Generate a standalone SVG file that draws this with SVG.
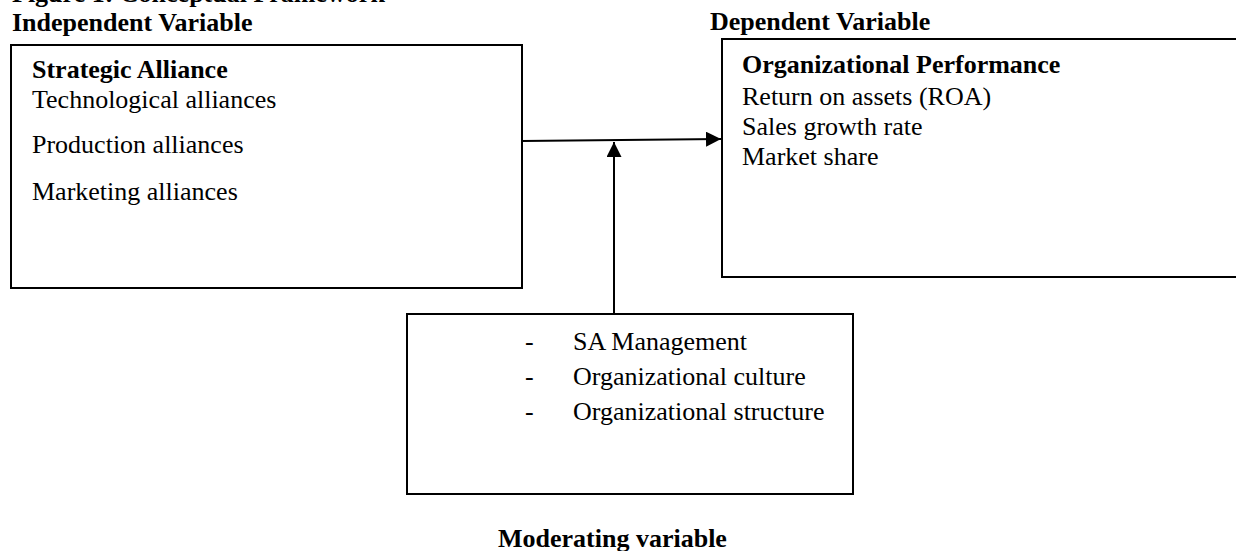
<svg xmlns="http://www.w3.org/2000/svg" width="1236" height="551" viewBox="0 0 1236 551">
<style>
.box{fill:#fff;stroke:#000;stroke-width:2}
.t{font-family:"Liberation Serif","Times New Roman",serif;font-size:26px;fill:#000}
.b{font-weight:bold}
.con{stroke:#000;stroke-width:2;fill:none}
</style>
<defs>
<marker id="ah" viewBox="0 0 10 10" refX="10" refY="5" markerWidth="15" markerHeight="15" markerUnits="userSpaceOnUse" orient="auto">
<path d="M0,0 L10,5 L0,10 Z" fill="#000"/>
</marker>
</defs>
<rect width="1236" height="551" fill="#fff"/>
<text class="t b" x="12" y="1.5">Figure 1: Conceptual Framework</text>
<text class="t b" x="12" y="31">Independent Variable</text>
<text class="t b" x="710" y="30">Dependent Variable</text>
<g id="independent">
<rect class="box" x="11" y="45" width="511" height="243"/>
<text class="t b" x="32" y="78">Strategic Alliance</text>
<text class="t" x="32" y="108">Technological alliances</text>
<text class="t" x="32" y="153">Production alliances</text>
<text class="t" x="32" y="200">Marketing alliances</text>
</g>
<g id="dependent">
<rect class="box" x="722" y="39" width="530" height="238"/>
<text class="t b" x="742" y="73">Organizational Performance</text>
<text class="t" x="742" y="105">Return on assets (ROA)</text>
<text class="t" x="742" y="135">Sales growth rate</text>
<text class="t" x="742" y="165">Market share</text>
</g>
<g id="moderating">
<rect class="box" x="407" y="314" width="446" height="180"/>
<text class="t" x="525" y="350">-</text>
<text class="t" x="573" y="350">SA Management</text>
<text class="t" x="525" y="385">-</text>
<text class="t" x="573" y="385">Organizational culture</text>
<text class="t" x="525" y="420">-</text>
<text class="t" x="573" y="420">Organizational structure</text>
<text class="t b" x="498" y="547">Moderating variable</text>
</g>
<g id="connectors">
<line class="con" x1="522" y1="141" x2="721" y2="139" marker-end="url(#ah)"/>
<line class="con" x1="614" y1="314" x2="614" y2="142" marker-end="url(#ah)"/>
</g>
</svg>
